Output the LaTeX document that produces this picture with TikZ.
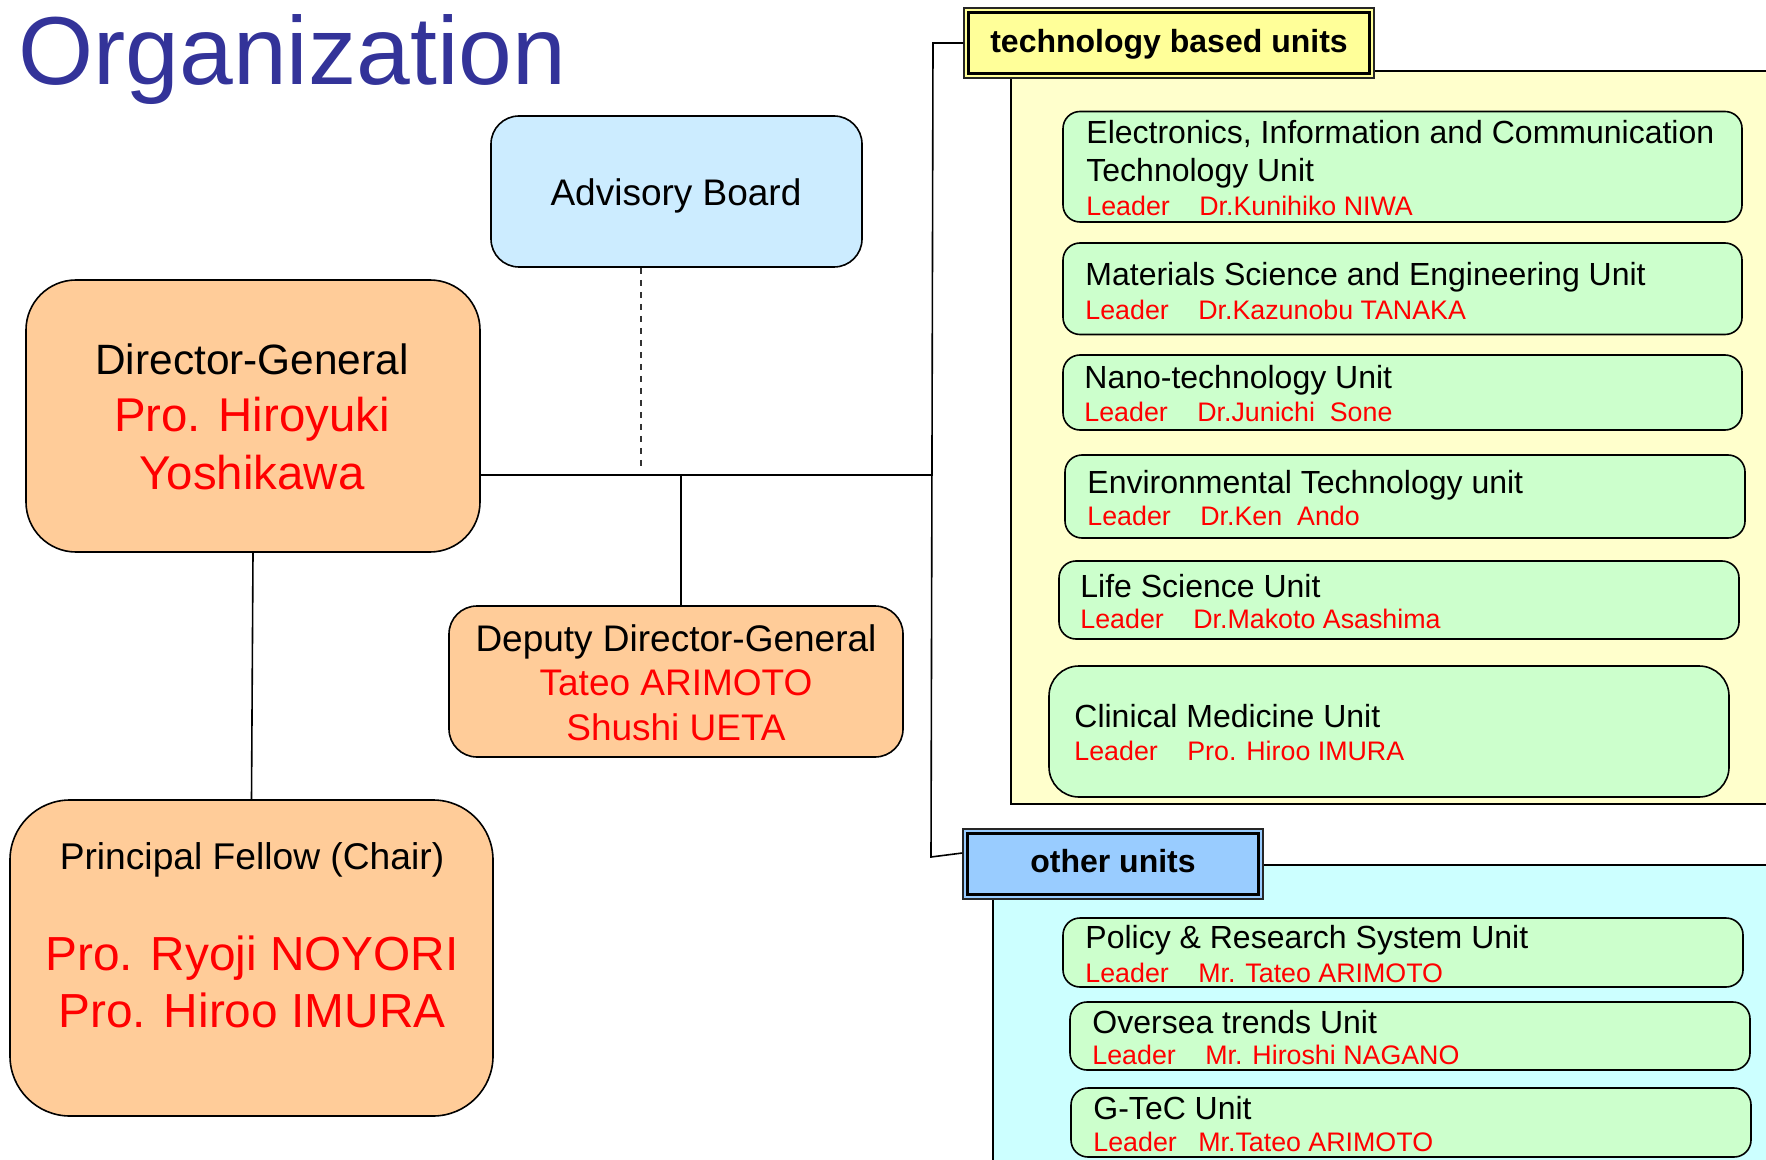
\documentclass[tikz,border=0pt]{standalone}
\usepackage{fontspec}
\setmainfont{Liberation Sans}
\usetikzlibrary{fit}

\definecolor{titleblue}{HTML}{333399}
\definecolor{orangefill}{HTML}{FFCC99}
\definecolor{advfill}{HTML}{CCECFF}
\definecolor{unitfill}{HTML}{CCFFCC}
\definecolor{techlblfill}{HTML}{FFFF99}
\definecolor{techpanelfill}{HTML}{FFFFCC}
\definecolor{otherlblfill}{HTML}{99CCFF}
\definecolor{otherpanelfill}{HTML}{CCFFFF}
\definecolor{namered}{HTML}{FF0000}

\newcommand\sz[1]{\fontsize{#1pt}{#1pt}\selectfont}
\newcommand\ldgap{\hspace{1.1em}}

\begin{document}
\begin{tikzpicture}[x=0.5pt,y=-0.5pt,
  conn/.style={draw=black, line width=0.8pt},
  dashconn/.style={draw=black!80, line width=0.6pt, dash pattern=on 3pt off 3pt},
  panelline/.style={draw=black, line width=0.9pt},
  person/.style={draw=black, line width=0.8pt, fill=orangefill, inner sep=0pt},
  unit/.style={draw=black, line width=0.8pt, fill=unitfill, inner sep=0pt, rounded corners=8.5pt},
  lbl/.style={draw=black!85, line width=0.7pt, inner sep=0pt},
  lblinner/.style={draw=black, line width=1.8pt},
  ctxt/.style={inner sep=0pt, anchor=base},
  ltxt/.style={inner sep=0pt, anchor=base west},
  utitle/.style={ltxt, font=\sz{16}},
  uleader/.style={ltxt, font=\sz{13.4}, text=namered}]

\path[use as bounding box] (0,0) rectangle (1766,1160);
\clip (0,0) rectangle (1766,1160);

% title
\node[ltxt, font=\sz{48.3}, text=titleblue] (title) at (18,85) {Organization};

% unit panels
\fill[techpanelfill] (1011,71) rectangle (1790,804);
\draw[panelline] (1790,71) -- (1011,71) -- (1011,804) -- (1790,804);
\fill[otherpanelfill] (993,865) rectangle (1790,1180);
\draw[panelline] (1790,865) -- (993,865) -- (993,1180);

% panel headers with double frame
\node[lbl, fill=techlblfill, fit={(964,8)(1374,78)}] (tech) {};
\draw[lblinner] ([shift={(2.6pt,-2.6pt)}]tech.north west) rectangle ([shift={(-2.6pt,2.6pt)}]tech.south east);
\node[ctxt, font=\bfseries\sz{16}] (techtxt) at (1169,52.5) {technology based units};

\node[lbl, fill=otherlblfill, fit={(963,829)(1263,899)}] (other) {};
\draw[lblinner] ([shift={(2.6pt,-2.6pt)}]other.north west) rectangle ([shift={(-2.6pt,2.6pt)}]other.south east);
\node[ctxt, font=\bfseries\sz{16}] (othertxt) at (1113,872.5) {other units};

% management boxes
\node[draw=black, line width=0.8pt, fill=advfill, inner sep=0pt, rounded corners=14pt,
      fit={(491,116)(862,267)}] (adv) {};
\node[ctxt, font=\sz{18.5}] (advtxt) at (676,206) {Advisory Board};

\node[person, rounded corners=25pt, fit={(26,280)(480,552)}] (dg) {};
\node[ctxt, font=\sz{21.2}] (dg1) at (252,375) {Director-General};
\node[ctxt, font=\sz{23.7}, text=namered] (dg2) at (252,431) {Pro. Hiroyuki};
\node[ctxt, font=\sz{23.7}, text=namered] (dg3) at (252,489) {Yoshikawa};

\node[person, rounded corners=14pt, fit={(449,606)(903,757)}] (dep) {};
\node[ctxt, font=\sz{18.5}] (dep1) at (676,651) {Deputy Director-General};
\node[ctxt, font=\sz{18.5}, text=namered] (dep2) at (676,695) {Tateo ARIMOTO};
\node[ctxt, font=\sz{18.5}, text=namered] (dep3) at (676,740) {Shushi UETA};

\node[person, rounded corners=30pt, fit={(10,800)(493,1116)}] (pf) {};
\node[ctxt, font=\sz{18.6}] (pf1) at (252,869) {Principal Fellow (Chair)};
\node[ctxt, font=\sz{23.9}, text=namered] (pf2) at (252,970) {Pro. Ryoji NOYORI};
\node[ctxt, font=\sz{23.9}, text=namered] (pf3) at (252,1027) {Pro. Hiroo IMURA};

% connectors
\coordinate (trunkTop) at (933,43);
\coordinate (trunkBot) at (931,857);
\coordinate (hub) at (933,475);
\coordinate (advFoot) at (641,471);
\coordinate (depTap) at (681,475);
\draw[conn] (tech.west) -- (trunkTop) -- (trunkBot) -- (other.west |- 0,853);
\draw[conn] (dg.east |- hub) -- (hub);
\draw[dashconn] (adv.south -| advFoot) -- (advFoot);
\draw[conn] (depTap) -- (dep.north -| depTap);
\draw[conn] (dg.south) -- (pf.north);

% technology based units
\node[unit, fit={(1063,111.5)(1742,222)}] (eict) {};
\node[utitle] (eictA) at (1086,143.5) {Electronics, Information and Communication};
\node[utitle] (eictB) at (1086,181.5) {Technology Unit};
\node[uleader] (eictL) at (1086,215.5) {Leader\ldgap Dr.Kunihiko NIWA};

\node[unit, fit={(1063,243)(1742,334.5)}] (mse) {};
\node[utitle] (mseA) at (1085,286) {Materials Science and Engineering Unit};
\node[uleader] (mseL) at (1085,319.5) {Leader\ldgap Dr.Kazunobu TANAKA};

\node[unit, fit={(1063,355)(1742,430)}] (nano) {};
\node[utitle] (nanoA) at (1084,388.5) {Nano-technology Unit};
\node[uleader] (nanoL) at (1084,421.5) {Leader\ldgap Dr.Junichi~~Sone};

\node[unit, fit={(1065,455)(1745,538)}] (env) {};
\node[utitle] (envA) at (1087,493) {Environmental Technology unit};
\node[uleader] (envL) at (1087,525.5) {Leader\ldgap Dr.Ken~~Ando};

\node[unit, fit={(1059,561)(1739,639)}] (life) {};
\node[utitle] (lifeA) at (1080,597) {Life Science Unit};
\node[uleader] (lifeL) at (1080,628.5) {Leader\ldgap Dr.Makoto Asashima};

\node[unit, rounded corners=15pt, fit={(1049,666)(1729,797)}] (clin) {};
\node[utitle] (clinA) at (1074,727.5) {Clinical Medicine Unit};
\node[uleader] (clinL) at (1074,760.5) {Leader\ldgap Pro. Hiroo IMURA};

% other units
\node[unit, fit={(1063,918)(1743,987)}] (prs) {};
\node[utitle] (prsA) at (1085,948.5) {Policy \& Research System Unit};
\node[uleader] (prsL) at (1085,982.5) {Leader\ldgap Mr. Tateo ARIMOTO};

\node[unit, fit={(1070,1002)(1750,1070)}] (ovs) {};
\node[utitle] (ovsA) at (1092,1033) {Oversea trends Unit};
\node[uleader] (ovsL) at (1092,1064.5) {Leader\ldgap Mr. Hiroshi NAGANO};

\node[unit, fit={(1071,1088)(1751,1157)}] (gtec) {};
\node[utitle] (gtecA) at (1093,1119) {G-TeC Unit};
\node[uleader] (gtecL) at (1093,1151.5) {Leader\hspace{0.8em}Mr.Tateo ARIMOTO};

\end{tikzpicture}
\end{document}
